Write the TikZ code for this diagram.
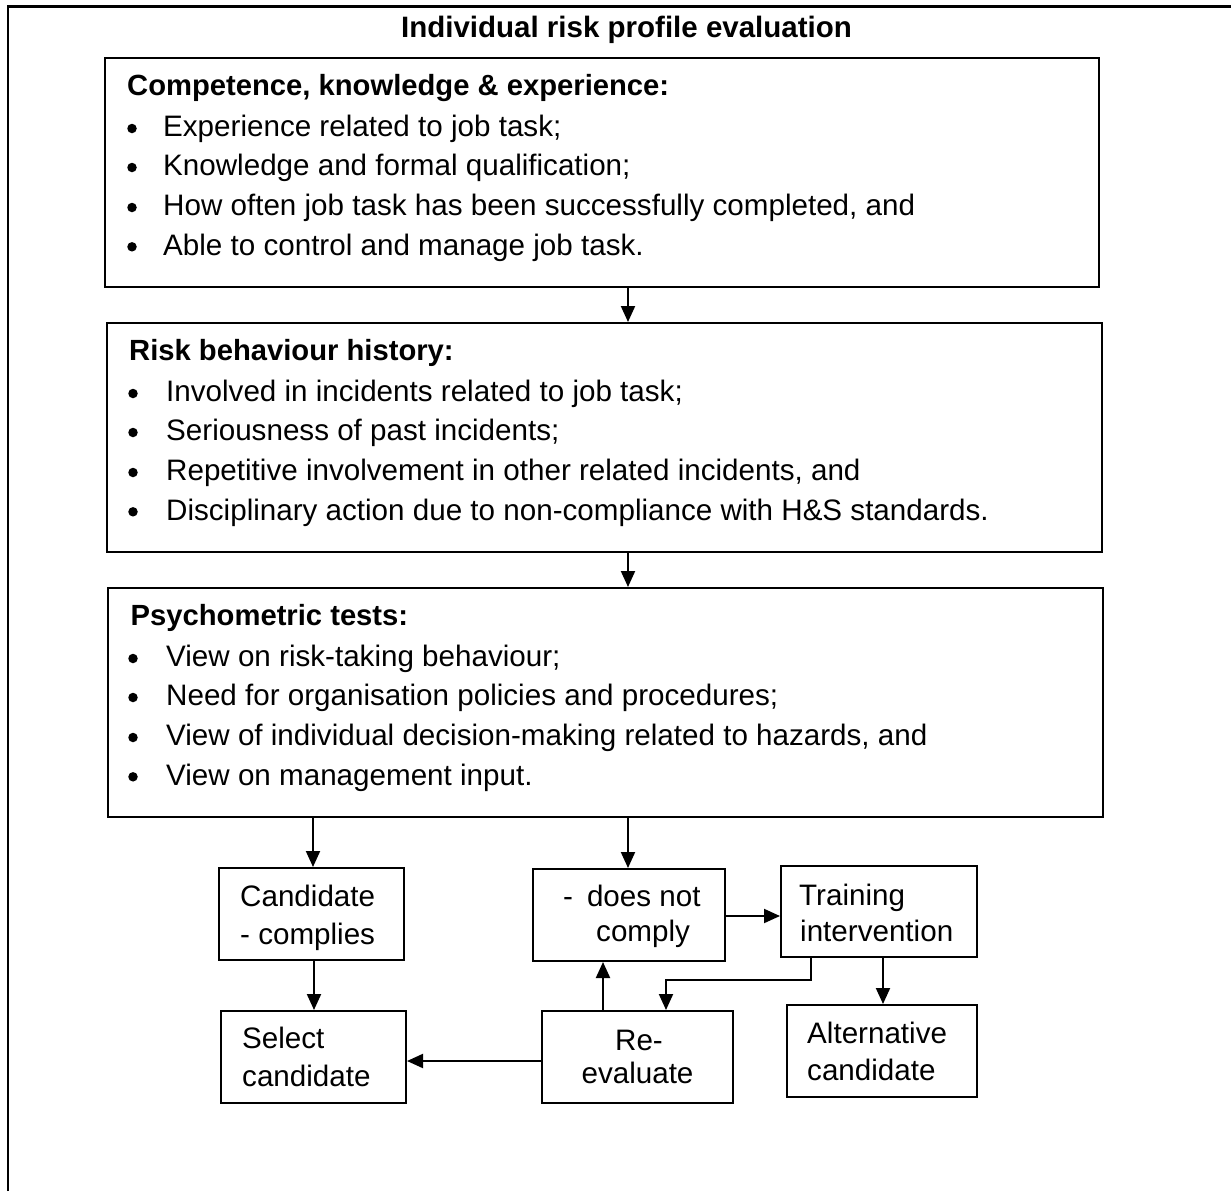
\documentclass[tikz,border=0pt]{standalone}
\usepackage{fontspec}
\setmainfont{Liberation Sans}
\usetikzlibrary{arrows.meta}
\begin{document}
\begin{tikzpicture}[x=1pt,y=-1pt,
  box/.style={draw, line width=2pt, inner sep=0pt},
  txt/.style={anchor=base west, inner sep=0pt, font=\fontsize{29.6}{34}\selectfont},
  ctxt/.style={txt, anchor=base},
  hd/.style={txt, font=\fontsize{29.2}{34}\selectfont\bfseries},
  dot/.style={circle, fill, inner sep=0pt, minimum size=9.5pt},
  arr/.style={line width=2pt, -{Triangle[length=16pt,width=14pt]}}]
\useasboundingbox (0,0) rectangle (1231,1191);

% outer frame (cell border)
\draw[line width=2.5pt] (8,1191) -- (8,6.5) -- (1231,6.5);

\node[hd, anchor=base, font=\fontsize{29.5}{34}\selectfont\bfseries] (title) at (626.5,37) {Individual risk profile evaluation};

% main boxes
\node[box, minimum width=994, minimum height=229] (b1) at (602,172.5) {};
\node[box, minimum width=995, minimum height=229] (b2) at (604.5,437.5) {};
\node[box, minimum width=995, minimum height=229] (b3) at (605.5,702.5) {};

% box 1 text
\node[hd] (h1) at (127,95.7) {Competence, knowledge \& experience:};
\node[dot] (d11) at (132,128.5) {};
\node[dot] (d12) at (132,167.5) {};
\node[dot] (d13) at (132,207.5) {};
\node[dot] (d14) at (132,246.8) {};
\node[txt] (t11) at (163,136.7) {Experience related to job task;};
\node[txt] (t12) at (163,175.7) {Knowledge and formal qualification;};
\node[txt] (t13) at (163,215.7) {How often job task has been successfully completed, and};
\node[txt] (t14) at (163,255) {Able to control and manage job task.};

% box 2 text
\node[hd] (h2) at (129,360.7) {Risk behaviour history:};
\node[dot] (d21) at (133,393.5) {};
\node[dot] (d22) at (133,432.5) {};
\node[dot] (d23) at (133,472.5) {};
\node[dot] (d24) at (133,511.8) {};
\node[txt] (t21) at (166,401.7) {Involved in incidents related to job task;};
\node[txt] (t22) at (166,440.7) {Seriousness of past incidents;};
\node[txt] (t23) at (166,480.7) {Repetitive involvement in other related incidents, and};
\node[txt] (t24) at (166,520) {Disciplinary action due to non-compliance with H\&S standards.};

% box 3 text
\node[hd] (h3) at (130.5,625.7) {Psychometric tests:};
\node[dot] (d31) at (133,658.5) {};
\node[dot] (d32) at (133,697.5) {};
\node[dot] (d33) at (133,737.5) {};
\node[dot] (d34) at (133,776.8) {};
\node[txt] (t31) at (166,666.7) {View on risk-taking behaviour;};
\node[txt] (t32) at (166,705.7) {Need for organisation policies and procedures;};
\node[txt] (t33) at (166,745.7) {View of individual decision-making related to hazards, and};
\node[txt] (t34) at (166,785) {View on management input.};

% decision boxes
\node[box, minimum width=185, minimum height=92] (cand) at (311.5,914) {};
\node[box, minimum width=185, minimum height=92] (sel) at (313.5,1057) {};
\node[box, minimum width=192, minimum height=92] (dnc) at (629,915) {};
\node[box, minimum width=196, minimum height=91] (train) at (879,911.5) {};
\node[box, minimum width=191, minimum height=92] (reev) at (637.5,1057) {};
\node[box, minimum width=190, minimum height=92] (alt) at (882,1051) {};

\node[txt] (tc1) at (240,906.5) {Candidate};
\node[txt] (tc2) at (240,944) {- complies};
\node[txt] (ts1) at (242,1048) {Select};
\node[txt] (ts2) at (242,1086.5) {candidate};
\node[txt] (tn1) at (563,906.5) {-\hspace{14pt}does not};
\node[txt] (tn2) at (596,941) {comply};
\node[txt] (tt1) at (799,905) {Training};
\node[txt] (tt2) at (800,941.5) {intervention};
\node[ctxt] (tr1) at (639,1050) {Re-};
\node[ctxt] (tr2) at (637.5,1083) {evaluate};
\node[txt] (ta1) at (807,1043) {Alternative};
\node[txt] (ta2) at (807,1080) {candidate};

% connector guide coordinates
\coordinate (xmid) at (628,0);
\coordinate (xleft) at (313,0);
\coordinate (xcs) at (314,0);
\coordinate (xup) at (603,0);
\coordinate (xalt) at (883,0);
\coordinate (yright) at (0,916);
\coordinate (yback) at (0,1061);
\coordinate (bendA) at (811,980);
\coordinate (bendB) at (666,980);

% connectors
\draw[arr] (b1.south -| xmid) -- (b2.north -| xmid);
\draw[arr] (b2.south -| xmid) -- (b3.north -| xmid);
\draw[arr] (b3.south -| xleft) -- (cand.north -| xleft);
\draw[arr] (b3.south -| xmid) -- (dnc.north -| xmid);
\draw[arr] (cand.south -| xcs) -- (sel.north -| xcs);
\draw[arr] (dnc.east |- yright) -- (train.west |- yright);
\draw[arr] (reev.north -| xup) -- (dnc.south -| xup);
\draw[arr] (train.south -| bendA) -- (bendA) -- (bendB) -- (reev.north -| bendB);
\draw[arr] (train.south -| xalt) -- (alt.north -| xalt);
\draw[arr] (reev.west |- yback) -- (sel.east |- yback);
\end{tikzpicture}
\end{document}
